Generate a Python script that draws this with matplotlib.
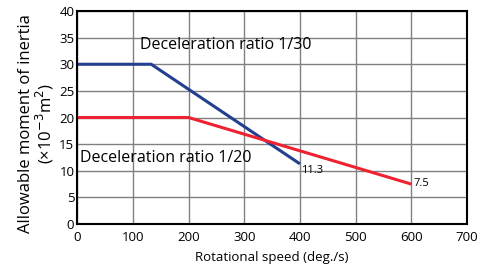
import matplotlib.pyplot as plt

# Allowable moment of inertia vs rotational speed
speed_1_30 = [0, 133, 400]
inertia_1_30 = [30, 30, 11.3]
speed_1_20 = [0, 200, 600]
inertia_1_20 = [20, 20, 7.5]

x_ticks = [0, 100, 200, 300, 400, 500, 600, 700]
y_ticks = [0, 5, 10, 15, 20, 25, 30, 35, 40]

plt.rcParams['font.family'] = ['Open Sans', 'DejaVu Sans']

fig = plt.figure(figsize=(4.85, 2.68), dpi=100)
ax = fig.add_axes([0.159, 0.164, 0.804, 0.795])

ax.plot(speed_1_30, inertia_1_30, color="#22408f", linewidth=2.2, solid_capstyle="butt")
ax.plot(speed_1_20, inertia_1_20, color="#ee2230", linewidth=2.2, solid_capstyle="butt")

ax.text(113, 33.6, "Deceleration ratio 1/30", fontsize=11.5, va="center")
ax.text(5, 12.4, "Deceleration ratio 1/20", fontsize=11.5, va="center")
ax.text(speed_1_30[-1] + 2, inertia_1_30[-1] - 0.3, "11.3", fontsize=8, va="top", ha="left")
ax.text(speed_1_20[-1] + 4, inertia_1_20[-1] + 0.2, "7.5", fontsize=8, va="center", ha="left")

ax.set_xlim(0, 700)
ax.set_ylim(0, 40)
ax.set_xticks(x_ticks)
ax.set_yticks(y_ticks)
ax.tick_params(length=0, labelsize=9.5, pad=2)
ax.tick_params(axis="x", pad=5)
ax.grid(True, color="#808080", linewidth=1)
ax.set_axisbelow(True)
for s in ax.spines.values():
    s.set_linewidth(1.5)
    s.set_color("black")

ax.set_xlabel("Rotational speed (deg./s)", fontsize=9.5, labelpad=5)
ax.set_ylabel("Allowable moment of inertia\n(×10$^{-3}$m$^2$)", fontsize=12, linespacing=1.0)
ax.yaxis.set_label_coords(-0.055, 0.47)

fig.savefig("out.png", dpi=100)
